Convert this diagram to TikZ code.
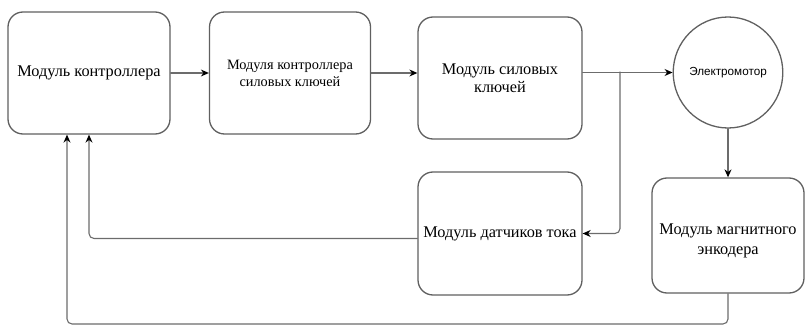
\documentclass[tikz,border=0pt]{standalone}
\usepackage{fontspec}
\setmainfont{Liberation Serif}
\newfontfamily\blockfont{Liberation Serif}
\newfontfamily\motorfont{Liberation Sans}
\usetikzlibrary{arrows.meta,shapes.geometric}

\begin{document}
\begin{tikzpicture}[x=1pt,y=-1pt,>={Stealth[length=8pt,width=7pt,color=black]},line cap=round,
  block/.style={draw=gray!75!black,line width=1.3pt,rounded corners=15pt,align=center,inner sep=2pt,font=\blockfont\fontsize{16.3}{18}\selectfont},
  link/.style={->,draw=gray!85!black,line width=1.1pt,rounded corners=5pt}]
\useasboundingbox (0,0) rectangle (805,326);
\node[block,minimum width=162pt,minimum height=122pt] (ctrl) at (89,73) {Модуль контроллера};
\node[block,minimum width=161pt,minimum height=122pt,font=\blockfont\fontsize{14.3}{17}\selectfont] (drv) at (290,73) {Модуля контроллера\\силовых ключей};
\node[block,minimum width=164pt,minimum height=122pt] (keys) at (500,78) {Модуль силовых\\ключей};
\node[draw=gray!75!black,line width=1.3pt,ellipse,minimum width=94pt,minimum height=111pt,inner sep=0pt,font=\motorfont\fontsize{11.7}{11}\selectfont] (motor) at (728,72.5) {Электромотор};
\node[block,minimum width=164pt,minimum height=123pt] (cur) at (500,233.5) {Модуль датчиков тока};
\node[block,minimum width=152pt,minimum height=115pt,font=\blockfont\fontsize{16.3}{20}\selectfont] (enc) at (728,235.5) {\rule{0pt}{21pt}Модуль магнитного\\энкодера};
\coordinate (br) at (620,72);
\coordinate (low) at (0,324);
\draw[link] (ctrl) -- (drv);
\draw[link] (drv.east) -- (drv.east -| keys.west);
\draw[link] (keys.east |- motor.west) -- (motor.west);
\draw[link] (br) |- (cur.east);
\draw[link] (motor.south) -- (enc.north);
\draw[link] ([yshift=-5pt]cur.west) -| (ctrl.south);
\draw[link] (enc.south) -- (enc.south |- low) -| ([xshift=-22pt]ctrl.south);
\end{tikzpicture}
\end{document}
